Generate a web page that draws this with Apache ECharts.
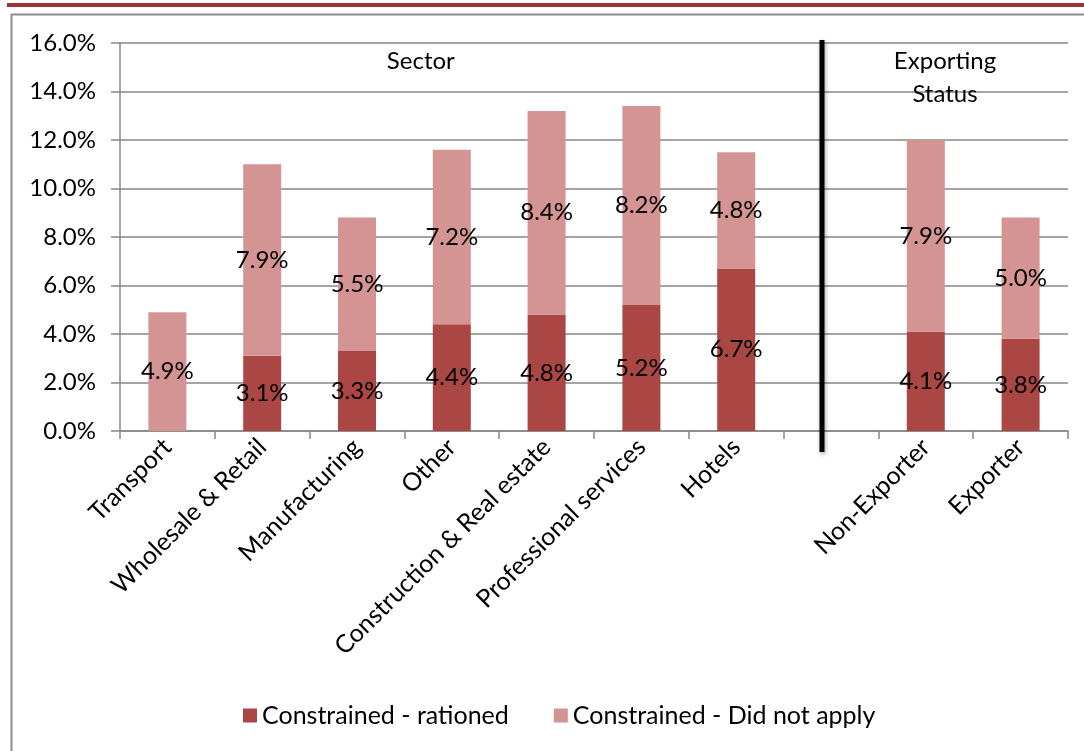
<!DOCTYPE html>
<html>
<head>
<meta charset="utf-8">
<style>
  html, body { margin: 0; padding: 0; background: #fff; }
  #chart { width: 1084px; height: 751px; }
</style>
<script src="https://cdn.jsdelivr.net/npm/echarts@6/dist/echarts.min.js"></script>
</head>
<body>
<div id="chart"></div>
<script>
// Categories: sectors, an empty spacer slot, then exporting status
const categories = ['Transport', 'Wholesale & Retail', 'Manufacturing', 'Other',
  'Construction & Real estate', 'Professional services', 'Hotels', '',
  'Non-Exporter', 'Exporter'];

// Share of firms (%), null where no bar is drawn
const rationed = [0, 3.1, 3.3, 4.4, 4.8, 5.2, 6.7, null, 4.1, 3.8];
const didNotApply = [4.9, 7.9, 5.5, 7.2, 8.4, 8.2, 4.8, null, 7.9, 5.0];

const seriesNames = ['Constrained - rationed', 'Constrained - Did not apply'];
const groupLabels = ['Sector', 'Exporting\nStatus'];

const FONT = 'Lato, "Open Sans", sans-serif';
const DARK = '#AA4744';
const LIGHT = '#D49493';
const GRID_GRAY = '#878787';

const chart = echarts.init(document.getElementById('chart'), null, { renderer: 'canvas' });

const pctLabel = {
  show: true,
  position: 'inside',
  color: '#000',
  fontFamily: FONT,
  fontSize: 24,
  formatter: p => (p.value ? p.value.toFixed(1) + '%' : '')
};

chart.setOption({
  animation: false,
  backgroundColor: '#fff',
  grid: { left: 120, right: 16, top: 43, bottom: 320, containLabel: false },
  legend: {
    bottom: 18,
    left: 238,
    itemWidth: 14,
    itemHeight: 14,
    itemGap: 45,
    icon: 'rect',
    textStyle: { fontFamily: FONT, fontSize: 25, color: '#000' },
    data: seriesNames
  },
  xAxis: {
    type: 'category',
    data: categories,
    axisLine: { lineStyle: { color: GRID_GRAY, width: 1.5 } },
    axisTick: { show: true, length: 8, lineStyle: { color: GRID_GRAY, width: 1.5 } },
    axisLabel: {
      interval: 0,
      rotate: 45,
      margin: 12,
      color: '#000',
      fontFamily: FONT,
      fontSize: 25
    }
  },
  yAxis: {
    type: 'value',
    min: 0,
    max: 16,
    interval: 2,
    axisLine: { show: true, lineStyle: { color: GRID_GRAY, width: 1.5 } },
    axisTick: { show: true, length: 9, lineStyle: { color: GRID_GRAY, width: 1.5 } },
    splitLine: { lineStyle: { color: GRID_GRAY, width: 1.5 } },
    axisLabel: {
      margin: 24,
      color: '#000',
      fontFamily: FONT,
      fontSize: 24,
      formatter: v => v.toFixed(1) + '%'
    }
  },
  series: [
    {
      name: seriesNames[0],
      type: 'bar',
      stack: 'total',
      barWidth: 38,
      itemStyle: { color: DARK },
      label: pctLabel,
      data: rationed
    },
    {
      name: seriesNames[1],
      type: 'bar',
      stack: 'total',
      barWidth: 38,
      itemStyle: { color: LIGHT },
      label: pctLabel,
      data: didNotApply
    }
  ]
});

// Frame, header rule, group captions and the divider drawn from axis positions
function drawDecorations() {
  const gapX = chart.convertToPixel({ xAxisIndex: 0 }, 7) - 9;
  const top16 = chart.convertToPixel({ yAxisIndex: 0 }, 16);
  const zero = chart.convertToPixel({ yAxisIndex: 0 }, 0);
  const plotRight = 1084 - 16;
  const sectorX = chart.convertToPixel({ xAxisIndex: 0 }, 3) - 31;
  const exportX = (gapX + plotRight) / 2;

  chart.setOption({
    graphic: [
      {
        type: 'rect',
        shape: { x: 11.5, y: 14.5, width: 1100, height: 800 },
        style: { fill: 'none', stroke: '#8c8c8c', lineWidth: 2 },
        silent: true, z: 0
      },
      {
        type: 'rect',
        shape: { x: 7, y: 3, width: 1080, height: 4 },
        style: { fill: '#9B3634' },
        silent: true
      },
      {
        type: 'text',
        x: sectorX, y: 61,
        style: {
          text: groupLabels[0], fill: '#000', font: '24px ' + FONT,
          align: 'center', verticalAlign: 'middle'
        }
      },
      {
        type: 'text',
        x: exportX, y: 78,
        style: {
          text: groupLabels[1], fill: '#000', font: '24px ' + FONT,
          align: 'center', verticalAlign: 'middle', lineHeight: 33
        }
      },
      {
        type: 'line',
        shape: { x1: gapX, y1: top16 - 3, x2: gapX, y2: zero + 21 },
        style: {
          stroke: '#000', lineWidth: 5,
          shadowColor: 'rgba(0,0,0,0.35)', shadowBlur: 4, shadowOffsetX: 1, shadowOffsetY: 2
        },
        z: 100
      }
    ]
  });
}
drawDecorations();
</script>
</body>
</html>
